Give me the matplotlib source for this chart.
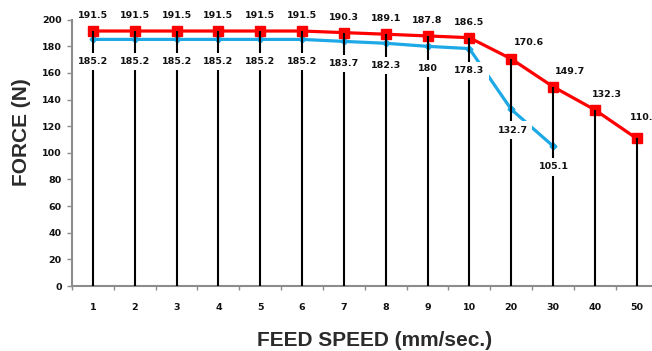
import matplotlib
matplotlib.use('Agg')
import matplotlib.pyplot as plt
import numpy as np

# feed speed categories (mm/sec.) and measured force (N)
speeds = ['1', '2', '3', '4', '5', '6', '7', '8', '9', '10', '20', '30', '40', '50']
force_red = [191.5, 191.5, 191.5, 191.5, 191.5, 191.5, 190.3, 189.1, 187.8, 186.5,
             170.6, 149.7, 132.3, 110.8]
force_blue = [185.2, 185.2, 185.2, 185.2, 185.2, 185.2, 183.7, 182.3, 180, 178.3,
              132.7, 105.1]
yticks = [0, 20, 40, 60, 80, 100, 120, 140, 160, 180, 200]

RED = '#ff0000'
BLUE = '#1ca9e6'
GRAY = '#8c8c8c'
NUM_FONT = 'DejaVu Sans'

fig = plt.figure(figsize=(6.52, 3.51), dpi=100)
fig.patch.set_facecolor('white')
ax = fig.add_axes([72/652, 65/351, 585.6/652, 266.3/351])

x = np.arange(len(speeds))
xb = x[:len(force_blue)]

ax.plot(x, force_red, color=RED, lw=2.3, marker='s', ms=7.2, zorder=3)
ax.plot(xb, force_blue, color=BLUE, lw=2.3, marker='D', ms=3.5, zorder=2)
# drop lines from the upper series to the axis
ax.vlines(x, 0, force_red, color='black', lw=1.5, zorder=4)

# labels on the falling part sit up and to the right of the markers
label_shift = {10: (13, 12), 11: (12, 11), 12: (9, 11), 13: (6, 15)}

box = dict(boxstyle='square,pad=0.45', fc='white', ec='none')
for i, v in enumerate(force_red):
    off = label_shift.get(i, (0, 11))
    ax.annotate(f'{v:g}', (x[i], v), xytext=off, textcoords='offset points',
                ha='center', va='center', fontsize=6.8, fontweight='bold',
                family=NUM_FONT, color='#111111', bbox=box, zorder=6)
for i, v in enumerate(force_blue):
    off = (0, -16) if i < 10 else (1, -15)
    ax.annotate(f'{v:g}', (xb[i], v), xytext=off, textcoords='offset points',
                ha='center', va='center', fontsize=6.8, fontweight='bold',
                family=NUM_FONT, color='#111111', bbox=box, zorder=6)

ax.set_xlim(-0.5, len(speeds) - 0.5)
ax.set_ylim(0, 200)
ax.set_yticks(yticks)
ax.set_yticklabels([str(t) for t in yticks], fontsize=6.8, fontweight='bold',
                   family=NUM_FONT, color='#111111')
ax.set_xticks(x)
ax.set_xticklabels(speeds, fontsize=6.8, fontweight='bold', family=NUM_FONT,
                   color='#111111')
ax.set_xticks(np.arange(-0.5, len(speeds), 1.0), minor=True)
ax.tick_params(axis='x', which='major', length=0, pad=12)
ax.tick_params(axis='x', which='minor', length=3, color=GRAY, width=1)
ax.tick_params(axis='y', length=3.5, color=GRAY, width=1, pad=4)

for s in ['top', 'right']:
    ax.spines[s].set_visible(False)
for s in ['left', 'bottom']:
    ax.spines[s].set_color(GRAY)
    ax.spines[s].set_linewidth(1.5)

fig.text(22/652, 1 - 132/351, 'FORCE (N)', rotation=90, ha='center', va='center',
         fontsize=15, fontweight='bold', family='Liberation Sans', color='#2b2b2b')
fig.text(375/652, 1 - 340/351, 'FEED SPEED (mm/sec.)', ha='center', va='center',
         fontsize=15, fontweight='bold', family='Liberation Sans', color='#2b2b2b')

fig.savefig('out.png', dpi=100, facecolor='white')
